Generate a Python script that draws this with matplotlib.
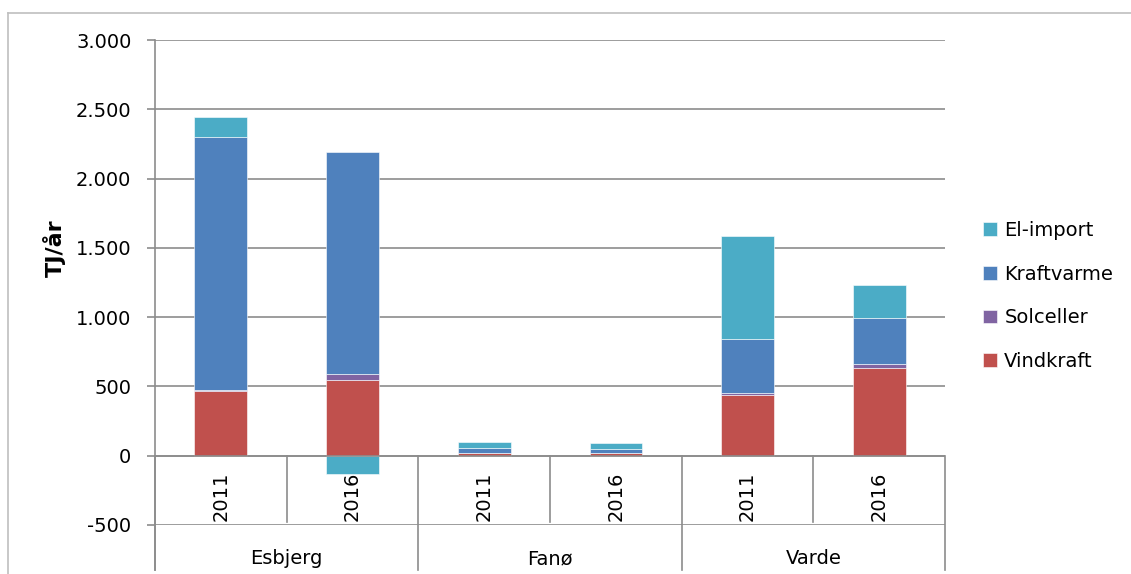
import matplotlib
matplotlib.use('agg')
from matplotlib import pyplot as plt
from matplotlib.lines import Line2D
import matplotlib.ticker as mticker
import numpy as np

plt.rcParams['font.family'] = ['DejaVu Sans']

# data (TJ/år)
groups = ['Esbjerg', 'Fanø', 'Varde']
years = ['2011', '2016', '2011', '2016', '2011', '2016']
series = ['Vindkraft', 'Solceller', 'Kraftvarme', 'El-import']
vindkraft = [470, 545, 17, 17, 440, 630]
solceller = [2, 45, 2, 3, 15, 30]
kraftvarme = [1830, 1600, 40, 25, 387, 337]
el_import = [140, -130, 43, 47, 745, 233]
colors = ['#C0504D', '#8064A2', '#4F81BD', '#4BACC6']

W, H = 1131, 574
fig = plt.figure(figsize=(W / 100, H / 100), dpi=100)
ax = fig.add_axes([155 / W, 1 - 525 / H, 790 / W, 485 / H])
px = 485 / 3500  # pixels per unit

x = np.arange(len(years))
pos = np.zeros(len(years))
neg = np.zeros(len(years))
for name, vals, c in zip(series, [vindkraft, solceller, kraftvarme, el_import], colors):
    vals = np.array(vals, dtype=float)
    bottom = np.where(vals >= 0, pos, neg)
    ax.bar(x, vals, 0.4, bottom=bottom, color=c, label=name,
           edgecolor='white', linewidth=0.4, zorder=3)
    pos += np.where(vals >= 0, vals, 0)
    neg += np.where(vals < 0, vals, 0)

ax.set_xlim(-0.5, len(years) - 0.5)
ax.set_ylim(-500, 3000)
ax.set_yticks(range(-500, 3001, 500))
ax.yaxis.set_major_formatter(mticker.FuncFormatter(lambda v, p: f'{int(v):,}'.replace(',', '.')))
ax.tick_params(axis='y', labelsize=14, length=6, color='#8c8c8c', width=1.2, pad=11)
ax.grid(axis='y', color='#8c8c8c', linewidth=1.2, zorder=0)
ax.set_xticks([])
for s in ['top', 'right', 'bottom']:
    ax.spines[s].set_visible(False)
ax.spines['left'].set_color('#8c8c8c')
ax.spines['left'].set_linewidth(1.2)
ax.spines['left'].set_bounds(-500 - 45 / px, 3000)

# category axis drawn at y = 0
ax.axhline(0, color='#8c8c8c', linewidth=1.2, zorder=4)
for i in range(len(years) + 1):
    xe = i - 0.5
    low = -500 - 45 / px if i % 2 == 0 else -500 + 3 / px
    ax.plot([xe, xe], [0, low], color='#8c8c8c', linewidth=1.2, clip_on=False, zorder=4)
for i, yr in enumerate(years):
    ax.text(i, -40.5 / px, yr, rotation=90, ha='center', va='center', fontsize=14)
for j, g in enumerate(groups):
    ax.text(2 * j + 0.5, -103 / px, g, ha='center', va='center', fontsize=14, clip_on=False)

fig.text(54 / W, 1 - 248 / H, 'TJ/år', rotation=90, ha='center', va='center',
         fontsize=16, fontweight='bold')

handles, labels = ax.get_legend_handles_labels()
fig.legend(handles[::-1], labels[::-1], loc='center left',
           bbox_to_anchor=(965 / W, 1 - 296 / H), frameon=False, fontsize=14,
           handlelength=0.72, handleheight=0.72, handletextpad=0.4, labelspacing=1.27)

# outer chart border (only top and left visible)
fig.add_artist(Line2D([8 / W, 1], [1 - 13 / H, 1 - 13 / H], transform=fig.transFigure,
                      color='#bfbfbf', linewidth=1.2))
fig.add_artist(Line2D([8 / W, 8 / W], [0, 1 - 13 / H], transform=fig.transFigure,
                      color='#bfbfbf', linewidth=1.2))

fig.savefig('out.png', dpi=100)
